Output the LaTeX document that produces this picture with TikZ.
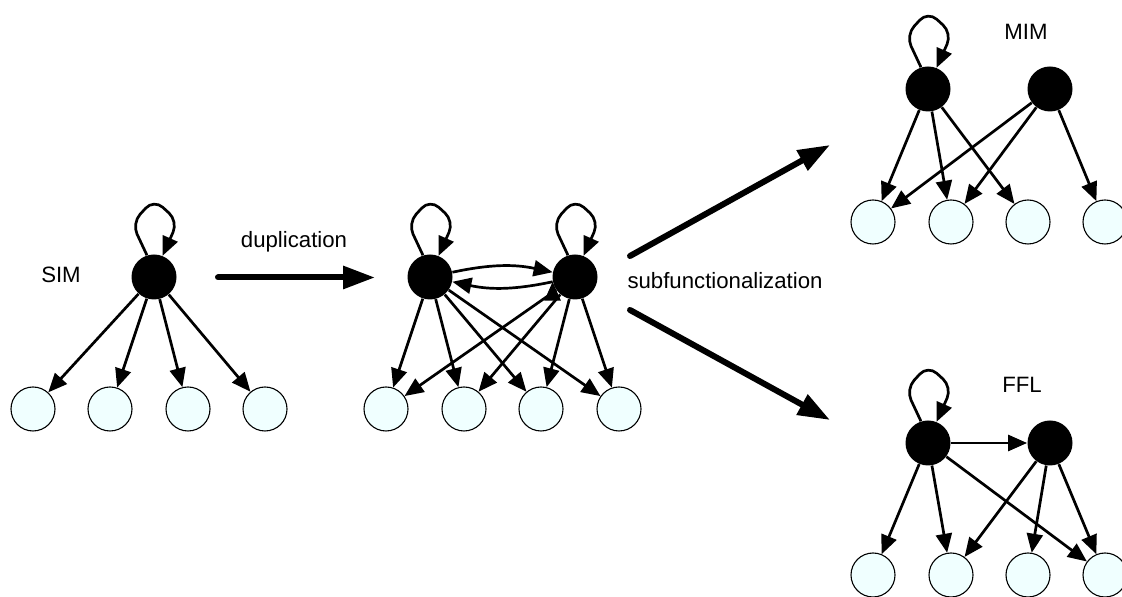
\documentclass[tikz,border=0pt]{standalone}
\usepackage{fontspec}
\setmainfont{Liberation Sans}
\usepackage{tikz}
\usetikzlibrary{arrows.meta}
\definecolor{leafcyan}{RGB}{240,255,255}
\newcommand{\regloop}[1]{\draw[link, rounded corners=6pt] (#1.108) -- ++(-15,32) -- ++(22,24) -- ++(24,-22) -- (#1.68);}
\tikzset{
    common/.style={circle, inner sep=0pt, minimum size=22.5pt},
    hub/.style={common, fill=black},
    leaf/.style={common, draw, line width=0.55pt, fill=leafcyan, minimum size=22pt},
    link/.style={line width=1.35pt, -{Triangle[length=9.5pt,width=8pt]}},
    bigarrow/.style={line width=3pt, line cap=round, -{Triangle[length=16pt,width=11pt]}},
    motif/.style={font=\fontsize{11.1}{13}\selectfont}
}
\begin{document}
\begin{tikzpicture}[x=0.5pt, y=0.5pt]
    \useasboundingbox (0,0) rectangle (1122,597);

    % SIM
    \node[hub] (s0) at (154,320) {};
    \node[leaf] (s1) at (33,188) {};
    \node[leaf] (s2) at (110,188) {};
    \node[leaf] (s3) at (188,188) {};
    \node[leaf] (s4) at (265,188) {};
    \node[motif] (sim) at (61,322) {SIM};
    \draw[link] (s0) edge (s1) (s0) edge (s2) (s0) edge (s3) (s0) edge (s4);
    \regloop{s0}

    % duplicated
    \node[hub] (d1) at (430,320) {};
    \node[hub] (d2) at (575,320) {};
    \node[leaf] (dl1) at (386,188) {};
    \node[leaf] (dl2) at (464,188) {};
    \node[leaf] (dl3) at (541,188) {};
    \node[leaf] (dl4) at (619,188) {};
    \draw[link] (d1) edge (dl1) (d1) edge (dl2) (d1) edge (dl3) (d1) edge (dl4)
                (d2) edge (dl1) (d2) edge (dl2) (d2) edge (dl3) (d2) edge (dl4);
    \draw[link] (d1.12) edge[bend left=12] (d2.168) (d2.192) edge[bend left=12] (d1.-12);
    \regloop{d1}
    \regloop{d2}

    % MIM
    \node[hub] (m1) at (928,508) {};
    \node[hub] (m2) at (1050,508) {};
    \node[leaf] (ml1) at (873,375) {};
    \node[leaf] (ml2) at (951,375) {};
    \node[leaf] (ml3) at (1028,375) {};
    \node[leaf] (ml4) at (1105,375) {};
    \node[motif] (mim) at (1026,565) {MIM};
    \draw[link] (m1) edge (ml1) (m1) edge (ml2) (m1) edge (ml3)
                (m2) edge (ml1) (m2) edge (ml2) (m2) edge (ml4);
    \regloop{m1}

    % FFL
    \node[hub] (f1) at (928,154) {};
    \node[hub] (f2) at (1050,154) {};
    \node[leaf] (fl1) at (873,22) {};
    \node[leaf] (fl2) at (951,22) {};
    \node[leaf] (fl3) at (1028,22) {};
    \node[leaf] (fl4) at (1105,22) {};
    \node[motif] (ffl) at (1022,212) {FFL};
    \draw[link] (f1) edge (f2) (f1) edge (fl1) (f1) edge (fl2) (f1) edge (fl4)
                (f2) edge (fl2) (f2) edge (fl3) (f2) edge (fl4);
    \regloop{f1}

    % steps
    \node[motif] (dup) at (294,355) {duplication};
    \node[motif] (sub) at (725,316.5) {subfunctionalization};
    \coordinate (dupA) at (218,319.5);
    \coordinate (dupB) at (375,319.5);
    \coordinate (upA) at (630,341);
    \coordinate (upB) at (830,452);
    \coordinate (downA) at (630,287);
    \coordinate (downB) at (830,177);
    \draw[bigarrow] (dupA) -- (dupB);
    \draw[bigarrow] (upA) -- (upB);
    \draw[bigarrow] (downA) -- (downB);
\end{tikzpicture}
\end{document}
